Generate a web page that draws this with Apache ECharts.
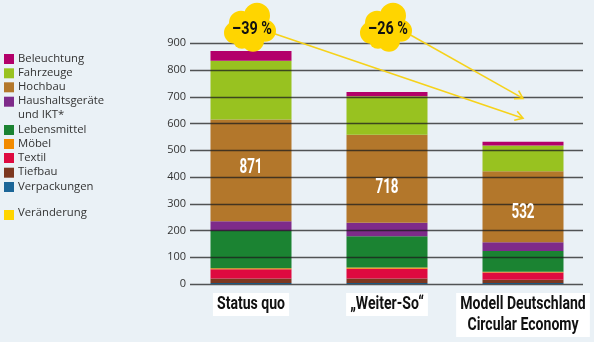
<!DOCTYPE html>
<html>
<head>
<meta charset="utf-8">
<script src="https://cdn.jsdelivr.net/npm/echarts@6/dist/echarts.min.js"></script>
<style>
html,body{margin:0;padding:0;background:#eaf1f6;}
#c{width:594px;height:342px;}
</style>
</head>
<body>
<div id="c"></div>
<script>
// ---- data ----
const categories = ['Status quo', '„Weiter-So“', 'Modell Deutschland\nCircular Economy'];
const seriesNames = ['Verpackungen', 'Tiefbau', 'Textil', 'Möbel', 'Lebensmittel', 'Haushaltsgeräte und IKT*', 'Hochbau', 'Fahrzeuge', 'Beleuchtung'];
const verpackungen = [4, 4, 4];
const tiefbau = [17, 17, 12];
const textil = [34, 36, 27];
const moebel = [4, 5, 3];
const lebensmittel = [139, 117, 77];
const haushalt = [37, 50, 33];
const hochbau = [380, 329, 266];
const fahrzeuge = [220, 144, 96];
const beleuchtung = [36, 16, 14];
const totals = [871, 718, 532];
const changeLabels = ['–39 %', '–26 %'];
const changeFrom = [0, 1];          // category index of each cloud
const changeTo = [620, 694];        // arrow target value at last category
const legendLabels = ['Beleuchtung', 'Fahrzeuge', 'Hochbau', 'Haushaltsgeräte\nund IKT*', 'Lebensmittel', 'Möbel', 'Textil', 'Tiefbau', 'Verpackungen'];
const yTicks = [0, 100, 200, 300, 400, 500, 600, 700, 800, 900];

// ---- styles ----
const colors = {
  'Verpackungen': '#1c6698', 'Tiefbau': '#7c3720', 'Textil': '#de0a40', 'Möbel': '#f28b00',
  'Lebensmittel': '#1b8332', 'Haushaltsgeräte und IKT*': '#7e2b8a', 'Hochbau': '#b3772b',
  'Fahrzeuge': '#98c220', 'Beleuchtung': '#b3006a'
};
const legendColors = ['#b3006a', '#98c220', '#b3772b', '#7e2b8a', '#1b8332', '#f28b00', '#de0a40', '#7c3720', '#1c6698'];
const yellow = '#ffd500';
const bold = "Roboto, 'Noto Sans', sans-serif";
const sans = "'Open Sans', 'Noto Sans', sans-serif";
const valueLabelOffsets = [-3, 9, 6];

const dataMap = [verpackungen, tiefbau, textil, moebel, lebensmittel, haushalt, hochbau, fahrzeuge, beleuchtung];

const chart = echarts.init(document.getElementById('c'), null, {renderer: 'canvas'});

const series = seriesNames.map((name, i) => ({
  name: name, type: 'bar', stack: 'total', xAxisIndex: 1, yAxisIndex: 1,
  barWidth: 81, itemStyle: {color: colors[name]},
  data: dataMap[i], animation: false, z: 2
}));

chart.setOption({
  backgroundColor: '#eaf1f6',
  animation: false,
  grid: [
    {left: 190, right: 11, top: 43.3, bottom: 58, outerBoundsMode: 'none', containLabel: false},
    {left: 183, right: 3, top: 43.3, bottom: 58, outerBoundsMode: 'none', containLabel: false}
  ],
  xAxis: [
    {gridIndex: 0, type: 'value', show: false, min: 0, max: 1},
    {gridIndex: 1, type: 'category', data: categories,
      axisLine: {show: false}, axisTick: {show: false}, axisLabel: {show: false}}
  ],
  yAxis: [
    {gridIndex: 0, type: 'value', min: yTicks[0], max: yTicks[yTicks.length - 1], interval: 100, z: 5,
      axisLine: {show: false}, axisTick: {show: false},
      axisLabel: {margin: 4, color: '#333', fontFamily: sans, fontSize: 11},
      splitLine: {show: true, lineStyle: {color: 'rgba(30,30,30,0.75)', width: 1.3}}},
    {gridIndex: 1, type: 'value', min: 0, max: 900, interval: 100, show: false, splitLine: {show: false}}
  ],
  series: series
});

// ---- annotations: legend, labels, clouds, arrows ----
const graphics = [];
const legTop = [59, 73.3, 87.3, 101.7, 130, 144, 158, 172.7, 187];
legendLabels.forEach((t, i) => {
  graphics.push({type: 'rect', shape: {x: 4, y: legTop[i] - 5, width: 10, height: 10}, style: {fill: legendColors[i]}});
  graphics.push({type: 'text', x: 18, y: legTop[i] - 7.5, style: {text: t, fill: '#333', font: '11.3px ' + sans, lineHeight: 14, textVerticalAlign: 'top'}});
});
graphics.push({type: 'rect', shape: {x: 4, y: 210, width: 10, height: 10}, style: {fill: yellow}});
graphics.push({type: 'text', x: 18, y: 207.5, style: {text: 'Veränderung', fill: '#333', font: '11.3px ' + sans, textVerticalAlign: 'top'}});

// category labels (condensed look via scaleX)
categories.forEach((c, i) => {
  const p = chart.convertToPixel({gridIndex: 1}, [i, 0]);
  graphics.push({type: 'text', x: p[0], y: p[1] + 9, scaleX: 0.74, z: 20,
    style: {text: c, fill: '#111', font: 'bold 19px ' + bold, textAlign: 'center', textVerticalAlign: 'top',
      lineHeight: 21, backgroundColor: '#ffffff', padding: [1, 5.5, 1, 5.5]}});
});

// total labels inside Hochbau segment
totals.forEach((t, i) => {
  let base = 0;
  for (let k = 0; k < 6; k++) base += dataMap[k][i];
  const p = chart.convertToPixel({gridIndex: 1}, [i, base + hochbau[i] / 2]);
  graphics.push({type: 'text', x: p[0], y: p[1] + valueLabelOffsets[i], scaleX: 0.64, z: 20,
    style: {text: String(t), fill: '#fff', font: 'bold 21px ' + bold, textAlign: 'center', textVerticalAlign: 'middle'}});
});

function arrow(p0, p1) {
  const ang = Math.atan2(p1[1] - p0[1], p1[0] - p0[0]);
  const L = 9, a = 0.55;
  const h1 = [p1[0] - L * Math.cos(ang - a), p1[1] - L * Math.sin(ang - a)];
  const h2 = [p1[0] - L * Math.cos(ang + a), p1[1] - L * Math.sin(ang + a)];
  graphics.push({type: 'polyline', shape: {points: [p0, p1]}, style: {stroke: '#f6d21a', lineWidth: 1.6, fill: null}, z: 10});
  graphics.push({type: 'polyline', shape: {points: [h1, p1, h2]}, style: {stroke: '#f6d21a', lineWidth: 1.6, fill: null}, z: 10});
}
function cloud(c, text) {
  const circles = [[6, -12, 13], [-10, -5, 12], [-16, 5, 11], [2, 13, 11], [-9, 12, 9], [14, 3, 11], [0, 2, 15]];
  circles.forEach(k => graphics.push({type: 'circle', shape: {cx: c[0] + k[0], cy: c[1] + k[1], r: k[2]}, style: {fill: yellow}, z: 11}));
  graphics.push({type: 'text', x: c[0] + 1, y: c[1] + 2, scaleX: 0.8, z: 12,
    style: {text: text, fill: '#111', font: 'bold 18px ' + bold, textAlign: 'center', textVerticalAlign: 'middle'}});
}
const cloudVal = 958;
const arrowStartDy = [-2, -6];
changeFrom.forEach((ci, k) => {
  const c = chart.convertToPixel({gridIndex: 1}, [ci, cloudVal]);
  const end = chart.convertToPixel({gridIndex: 1}, [categories.length - 1, changeTo[k]]);
  arrow([c[0], c[1] + arrowStartDy[k]], end);
  cloud(c, changeLabels[k]);
});

chart.setOption({graphic: graphics});
</script>
</body>
</html>
